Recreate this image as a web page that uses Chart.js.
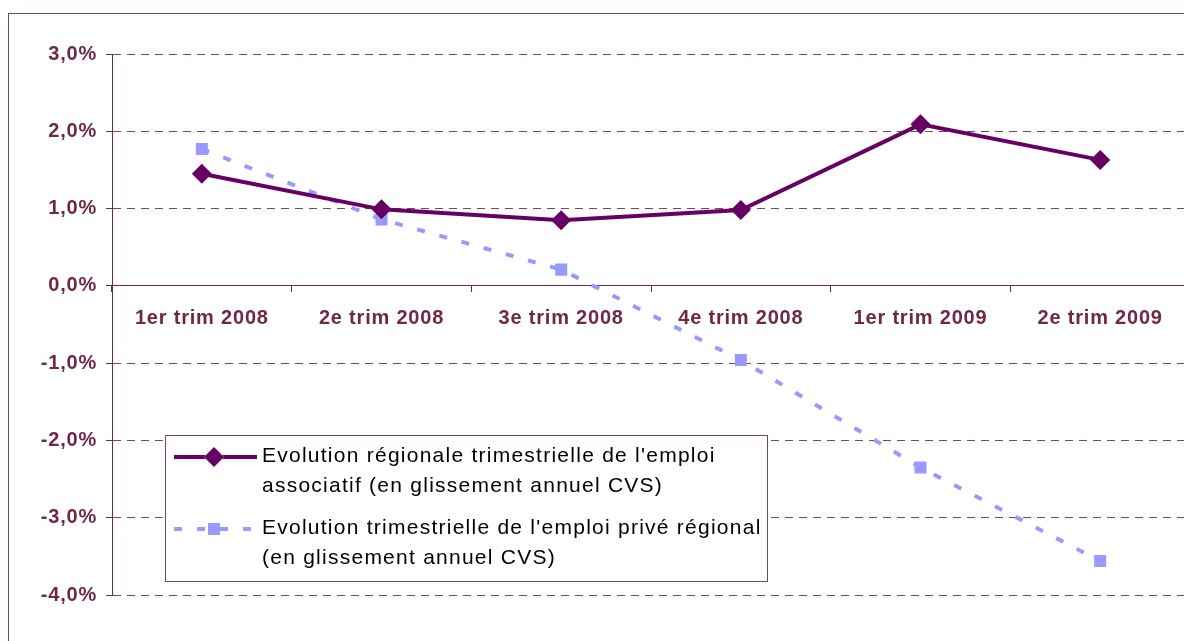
<!DOCTYPE html>
<html>
<head>
<meta charset="utf-8">
<script src="https://cdn.jsdelivr.net/npm/chart.js@4/dist/chart.umd.min.js"></script>
<style>
    html, body { margin: 0; padding: 0; background: #fff; overflow: hidden; }
    #frame { position: absolute; left: 8px; top: 13px; width: 1300px; height: 700px; border: 1px solid #7d4262; }
    #wrap { position: absolute; left: 0; top: 0; width: 1200px; height: 641px; }
</style>
</head>
<body>
<div id="frame"></div>
<div id="wrap"><canvas id="empChart" width="1200" height="641"></canvas></div>
<script>
// Data
const quarters = ['1er trim 2008', '2e trim 2008', '3e trim 2008', '4e trim 2008', '1er trim 2009', '2e trim 2009'];
const emploiAssociatif = [1.45, 0.99, 0.85, 0.98, 2.09, 1.63];
const emploiPrive = [1.77, 0.86, 0.21, -0.96, -2.35, -3.56];
const yTicks = [-4, -3, -2, -1, 0, 1, 2, 3];

const legendAssociatif = ["Evolution régionale trimestrielle de l'emploi", 'associatif (en glissement annuel CVS)'];
const legendPrive = ["Evolution trimestrielle de l'emploi privé régional", '(en glissement annuel CVS)'];

const MAROON = '#6f2847';
const GRID = '#84405f';
const FONT = "'Liberation Sans', Arial, sans-serif";

// Letter spacing for the axis labels (canvas state is reset on resize)
const spacingPlugin = {
    id: 'spacing',
    beforeDraw(chart) {
        chart.ctx.letterSpacing = '0.8px';
    }
};

// Legend box drawn inside the plot area, lower left
const boxLegend = {
    id: 'boxLegend',
    afterDatasetsDraw(chart) {
        const ctx = chart.ctx;
        const box = { x: 165.5, y: 435.5, w: 602, h: 146 };
        ctx.save();
        ctx.letterSpacing = '0px';
        ctx.fillStyle = '#fff';
        ctx.fillRect(box.x, box.y, box.w, box.h);
        ctx.strokeStyle = '#7d4262';
        ctx.lineWidth = 1;
        ctx.strokeRect(box.x, box.y, box.w, box.h);

        const entries = [
            { lines: legendAssociatif, ds: chart.data.datasets[0], y: 457 },
            { lines: legendPrive, ds: chart.data.datasets[1], y: 529 }
        ];
        entries.forEach(e => {
            ctx.save();
            ctx.strokeStyle = e.ds.borderColor;
            ctx.lineWidth = e.ds.borderWidth;
            ctx.setLineDash(e.ds.borderDash || []);
            ctx.beginPath();
            ctx.moveTo(174, e.y);
            ctx.lineTo(257, e.y);
            ctx.stroke();
            ctx.restore();
            Chart.helpers.drawPoint(ctx, {
                pointStyle: e.ds.pointStyle,
                radius: e.ds.pointRadius,
                borderWidth: 0,
                rotation: 0
            }, 214, e.y);
            ctx.fillStyle = e.ds.backgroundColor;
            ctx.fill();

            ctx.fillStyle = '#000';
            ctx.font = '21px ' + FONT;
            ctx.letterSpacing = '1.25px';
            ctx.textBaseline = 'alphabetic';
            ctx.textAlign = 'left';
            e.lines.forEach((line, i) => {
                ctx.fillText(line, 262, e.y + 5 + i * 30);
            });
        });
        ctx.restore();
    }
};

function formatPct(v) {
    return v.toFixed(1).replace('.', ',') + '%';
}

const ctx = document.getElementById('empChart').getContext('2d');
new Chart(ctx, {
    type: 'line',
    data: {
        labels: quarters,
        datasets: [
            {
                label: legendAssociatif.join(' '),
                data: emploiAssociatif,
                borderColor: '#660066',
                backgroundColor: '#660066',
                borderWidth: 4,
                pointStyle: 'rectRot',
                pointRadius: 10,
                pointBorderWidth: 0,
                tension: 0
            },
            {
                label: legendPrive.join(' '),
                data: emploiPrive,
                borderColor: '#9999ff',
                backgroundColor: '#9999ff',
                borderWidth: 4,
                borderDash: [8, 15],
                pointStyle: 'rect',
                pointRadius: 8.5,
                pointBorderWidth: 0,
                tension: 0
            }
        ]
    },
    options: {
        responsive: false,
        animation: false,
        devicePixelRatio: 1,
        layout: {
            padding: { top: 54, bottom: 46, left: 0, right: 9 }
        },
        plugins: {
            legend: { display: false },
            tooltip: { enabled: false }
        },
        scales: {
            x: {
                type: 'category',
                offset: true,
                position: { y: 0 },
                border: { display: true, color: MAROON, width: 1 },
                grid: {
                    display: true,
                    offset: true,
                    drawOnChartArea: false,
                    drawTicks: true,
                    tickLength: 6,
                    color: MAROON
                },
                ticks: {
                    color: MAROON,
                    padding: 15,
                    maxRotation: 0,
                    font: { family: FONT, size: 20, weight: 'bold' }
                }
            },
            y: {
                min: -4,
                max: 3,
                afterFit(scale) {
                    scale.width = 112;
                },
                afterBuildTicks(scale) {
                    scale.ticks = yTicks.map(v => ({ value: v }));
                },
                border: { display: true, color: MAROON, width: 1, dash: [8, 6] },
                grid: {
                    color: GRID,
                    lineWidth: 1,
                    drawTicks: true,
                    tickLength: 6,
                    tickColor: MAROON
                },
                ticks: {
                    color: MAROON,
                    padding: 9,
                    font: { family: FONT, size: 20, weight: 'bold' },
                    callback: v => formatPct(v)
                }
            }
        }
    },
    plugins: [spacingPlugin, boxLegend]
});
</script>
</body>
</html>
